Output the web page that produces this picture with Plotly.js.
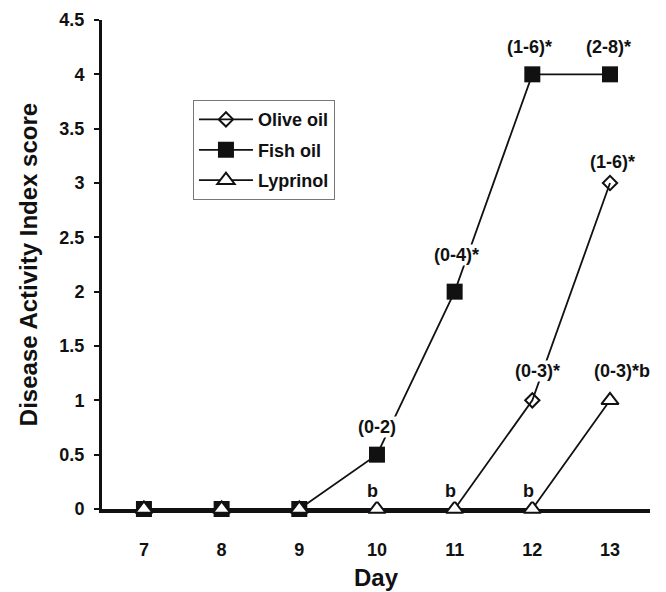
<!DOCTYPE html>
<html>
<head>
<meta charset="utf-8">
<script src="https://cdn.plot.ly/plotly-3.0.1.min.js"></script>
<style>html,body{margin:0;padding:0;background:#fff;}#chart{width:666px;height:592px;}</style>
</head>
<body>
<div id="chart"></div>
<script>
// ---- data ----
const days = [7, 8, 9, 10, 11, 12, 13];
const oliveOil = [0, 0, 0, 0, 0, 1, 3];
const fishOil = [0, 0, 0, 0.5, 2, 4, 4];
const lyprinol = [0, 0, 0, 0, 0, 0, 1];
const seriesNames = ['Olive oil', 'Fish oil', 'Lyprinol'];
const yTickValues = [0, 0.5, 1, 1.5, 2, 2.5, 3, 3.5, 4, 4.5];
const yTickLabels = ['0', '0.5', '1', '1.5', '2', '2.5', '3', '3.5', '4', '4.5'];
// annotation labels: day, score they sit above, text
const labelDays = [10, 11, 12, 13, 12, 13, 13, 10, 11, 12];
const labelScores = [0.5, 2, 4, 4, 1, 3, 1, 0, 0, 0];
const labelTexts = ['(0-2)', '(0-4)*', '(1-6)*', '(2-8)*', '(0-3)*', '(1-6)*', '(0-3)*b', 'b', 'b', 'b'];

// ---- styles ----
const labelXShift = [0, 2, -3, -2, 5, 2, 12, -4, -4, -4];
const labelYShift = [28, 37, 27, 27, 29, 21, 29, 18, 18, 18];
const FONT = 'Liberation Sans, Arial, Helvetica, sans-serif';

// olive markers lying under the (larger) Lyprinol triangles are hidden, as in the original figure
const oliveVisible = oliveOil.map((v, i) => i).filter(i => oliveOil[i] !== lyprinol[i]);

const lineStyle = {color: '#111', width: 1.8};
const traces = [
  {x: days, y: oliveOil, name: seriesNames[0], mode: 'lines+markers', line: lineStyle,
   marker: {symbol: 'diamond-open', size: 11, color: '#111', line: {width: 2, color: '#111'}},
   selectedpoints: oliveVisible, selected: {marker: {opacity: 1}}, unselected: {marker: {opacity: 0}},
   legendgroup: 'a', cliponaxis: false},
  {x: days, y: fishOil, name: seriesNames[1], mode: 'lines+markers', line: lineStyle,
   marker: {symbol: 'square', size: 16, color: '#111', line: {width: 0}},
   legendgroup: 'b', cliponaxis: false},
  {x: days, y: lyprinol, name: seriesNames[2], mode: 'lines+markers', line: lineStyle,
   marker: {symbol: 'triangle-up', size: 15, color: '#fff', line: {width: 2, color: '#111'}},
   legendgroup: 'c', cliponaxis: false}
];

const annotations = labelTexts.map((t, i) => ({
  x: labelDays[i], y: labelScores[i], xref: 'x', yref: 'y', text: t,
  showarrow: false, xshift: labelXShift[i], yshift: labelYShift[i],
  bgcolor: '#fff', borderpad: 0,
  font: {family: FONT, size: 18, color: '#111', weight: 'bold'}
}));

const layout = {
  width: 666, height: 592,
  margin: {l: 102, r: 16, t: 20, b: 83},
  paper_bgcolor: '#fff', plot_bgcolor: '#fff',
  showlegend: true,
  legend: {
    x: 0.166, y: 0.836, xanchor: 'left', yanchor: 'top',
    bgcolor: '#fff', bordercolor: '#777', borderwidth: 1,
    traceorder: 'grouped', tracegroupgap: 4, itemwidth: 54,
    font: {family: FONT, size: 18, color: '#111', weight: 'bold'}
  },
  xaxis: {
    range: [6.46, 13.515], tickvals: days, ticktext: days.map(String),
    showgrid: false, zeroline: false, showline: true, linecolor: '#111', linewidth: 4,
    ticks: '', ticklabelstandoff: 21, layer: 'below traces',
    tickfont: {family: FONT, size: 18, color: '#111', weight: 'bold'},
    title: {text: 'Day', standoff: 12, font: {family: FONT, size: 24, color: '#111', weight: 'bold'}}
  },
  yaxis: {
    range: [0, 4.5], tickvals: yTickValues, ticktext: yTickLabels,
    showgrid: false, zeroline: false, showline: true, linecolor: '#111', linewidth: 3,
    ticks: 'outside', ticklen: 5, tickwidth: 2, tickcolor: '#111', ticklabelstandoff: 6,
    layer: 'below traces',
    tickfont: {family: FONT, size: 18, color: '#111', weight: 'bold'},
    title: {text: 'Disease Activity Index score', standoff: 15, font: {family: FONT, size: 24, color: '#111', weight: 'bold'}}
  },
  annotations: annotations
};

Plotly.newPlot('chart', traces, layout, {staticPlot: true, displayModeBar: false});
</script>
</body>
</html>
